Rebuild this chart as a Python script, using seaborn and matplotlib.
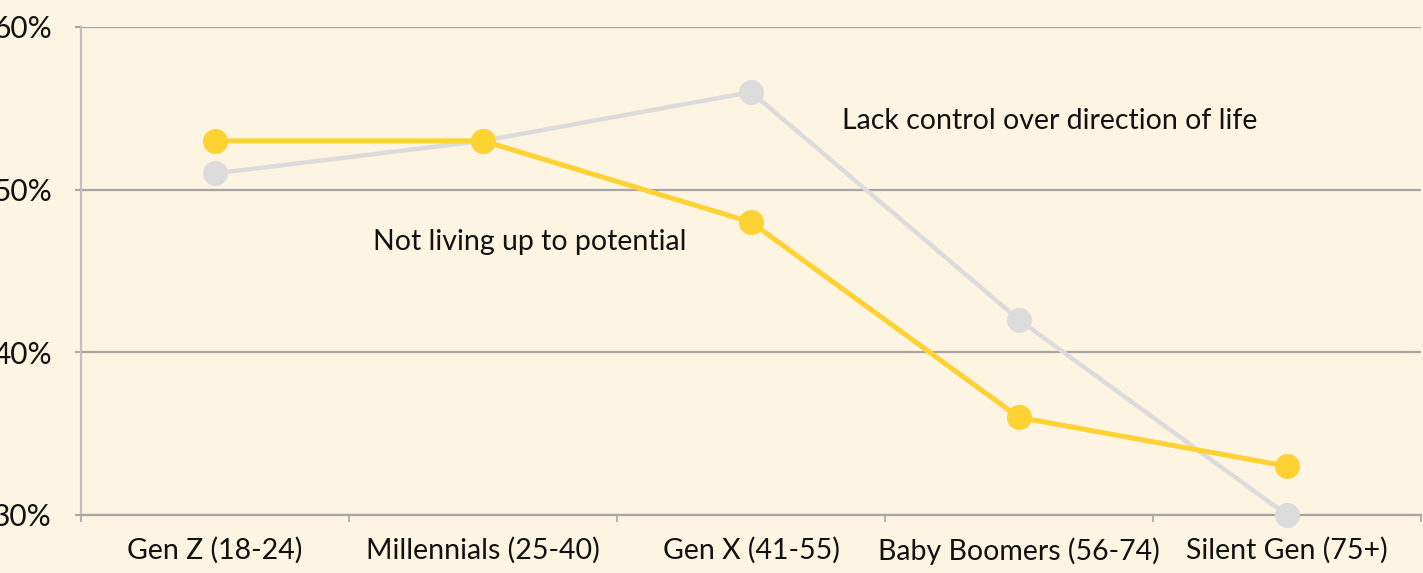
import matplotlib
matplotlib.use("Agg")
import matplotlib.pyplot as plt
import matplotlib.ticker as mticker
import seaborn as sns
import pandas as pd
import numpy as np

generations = ["Gen Z (18-24)", "Millennials (25-40)", "Gen X (41-55)",
               "Baby Boomers (56-74)", "Silent Gen (75+)"]
lack_control = [51, 53, 56, 42, 30]
not_living_up = [53, 53, 48, 36, 33]
series_names = ["Lack control over direction of life", "Not living up to potential"]

bg = "#FEF4E2"
grid_col = "#A6A6A6"
yellow = "#FFD233"
grey = "#DCDCDC"

df = pd.DataFrame({
    "gen": generations * 2,
    "pos": list(range(len(generations))) * 2,
    "value": lack_control + not_living_up,
    "series": [series_names[0]] * 5 + [series_names[1]] * 5,
})

sns.set_theme(style="white")
plt.rcParams["font.family"] = ["Lato", "DejaVu Sans"]

fig = plt.figure(figsize=(14.23, 5.73), dpi=100, facecolor=bg)
ax = fig.add_axes([81 / 1423, 1 - 515 / 573, 1340 / 1423, 488 / 573])
ax.set_facecolor(bg)

sns.lineplot(data=df, x="pos", y="value", hue="series",
             palette={series_names[0]: grey, series_names[1]: yellow},
             marker="o", markersize=18, markeredgewidth=0, linewidth=3.2,
             legend=False, ax=ax)
for ln in ax.lines:
    ln.set_clip_on(False)
    if ln.get_color().upper() == yellow:
        ln.set_linewidth(3.6)
        ln.set_zorder(4)
    else:
        ln.set_zorder(3)

ax.set_xlim(-0.5, 4.5)
ax.set_ylim(30, 60)
ax.set_xticks(range(5))
ax.set_xticklabels(generations, fontsize=20.5, color="#111111")
ax.xaxis.set_minor_locator(mticker.FixedLocator(np.arange(-0.5, 5, 1)))
ax.tick_params(axis="x", which="major", length=0, pad=16)
ax.tick_params(axis="x", which="minor", length=5, width=1.2, color=grid_col, direction="out", bottom=True)

ax.set_yticks([30, 40, 50, 60])
ax.yaxis.set_major_formatter(mticker.FuncFormatter(lambda v, p: f"{int(v)}%"))
ax.tick_params(axis="y", length=4, width=1.5, color=grid_col, pad=17, labelsize=21.5, labelcolor="#111111", left=True)
ax.grid(axis="y", color=grid_col, linewidth=1.6)
ax.set_axisbelow(True)

for s in ["top", "right"]:
    ax.spines[s].set_visible(False)
ax.spines["left"].set_color("#BFBFBF")
ax.spines["left"].set_linewidth(1.6)
ax.spines["bottom"].set_color(grid_col)
ax.spines["bottom"].set_linewidth(1.6)

ax.set_xlabel("")
ax.set_ylabel("")

ax.text(2.34, 54.2, series_names[0], fontsize=20.5, color="#111111", va="center", ha="left")
ax.text(0.59, 46.8, series_names[1], fontsize=20.5, color="#111111", va="center", ha="left")

fig.savefig("out.png", dpi=100, facecolor=bg)
